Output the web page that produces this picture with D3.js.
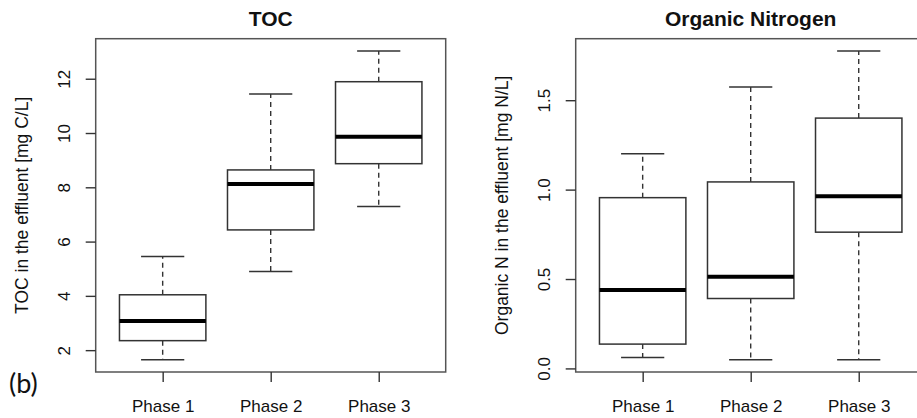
<!DOCTYPE html>
<html lang="en">
<head>
<meta charset="UTF-8" />
<title>TOC and Organic Nitrogen</title>
<script src="https://cdn.jsdelivr.net/npm/d3@7"></script>
<style>
  body { margin: 0; background: #fff; }
  svg text { font-family: "Liberation Sans", Arial, sans-serif; fill: #111; }
</style>
</head>
<body>
<div id="chart"></div>
<script>
// phases on the x axis
const phases = ["Phase 1", "Phase 2", "Phase 3"];

// TOC five-number summaries [mg C/L]
const tocLow  = [1.65, 4.90, 7.29];
const tocQ1   = [2.35, 6.43, 8.87];
const tocMed  = [3.07, 8.12, 9.86];
const tocQ3   = [4.04, 8.64, 11.89];
const tocHigh = [5.45, 11.44, 13.02];
const tocTicks = [2, 4, 6, 8, 10, 12];

// Organic N five-number summaries [mg N/L]
const orgLow  = [0.061, 0.049, 0.049];
const orgQ1   = [0.136, 0.391, 0.762];
const orgMed  = [0.438, 0.512, 0.963];
const orgQ3   = [0.955, 1.043, 1.400];
const orgHigh = [1.200, 1.574, 1.775];
const orgTicks = [0, 0.5, 1.0, 1.5];

const W = 917, H = 418;
const svg = d3.select("#chart").append("svg")
    .attr("width", W)
    .attr("height", H);

const plotTop = 38.7, plotBottom = 372, plotW = 350;

function panel(left, title, yTitle, low, q1, med, q3, high, ticks, fmt) {
  const g = svg.append("g").attr("transform", `translate(${left},0)`);

  // R style: x from 0.5 to n+0.5, padded by 4%
  const n = phases.length;
  const xs = d3.scaleLinear()
      .domain([0.5 - 0.04 * n, n + 0.5 + 0.04 * n])
      .range([0, plotW]);

  const lo = d3.min(low), hi = d3.max(high), pad = (hi - lo) * 0.04;
  const ys = d3.scaleLinear()
      .domain([lo - pad, hi + pad])
      .range([plotBottom, plotTop]);

  const boxes = phases.map((p, i) => ({
    x: i + 1, low: low[i], q1: q1[i], med: med[i], q3: q3[i], high: high[i]
  }));
  const half = 0.4, cap = 0.2;

  const b = g.selectAll("g.box").data(boxes).enter().append("g").attr("class", "box");

  // dashed whiskers
  b.append("line")
      .attr("x1", d => xs(d.x)).attr("x2", d => xs(d.x))
      .attr("y1", d => ys(d.q3)).attr("y2", d => ys(d.high))
      .attr("stroke", "#333").attr("stroke-width", 1.4).attr("stroke-dasharray", "5,4");
  b.append("line")
      .attr("x1", d => xs(d.x)).attr("x2", d => xs(d.x))
      .attr("y1", d => ys(d.q1)).attr("y2", d => ys(d.low))
      .attr("stroke", "#333").attr("stroke-width", 1.4).attr("stroke-dasharray", "5,4");

  // caps
  b.append("line")
      .attr("x1", d => xs(d.x - cap)).attr("x2", d => xs(d.x + cap))
      .attr("y1", d => ys(d.high)).attr("y2", d => ys(d.high))
      .attr("stroke", "#333").attr("stroke-width", 1.5);
  b.append("line")
      .attr("x1", d => xs(d.x - cap)).attr("x2", d => xs(d.x + cap))
      .attr("y1", d => ys(d.low)).attr("y2", d => ys(d.low))
      .attr("stroke", "#333").attr("stroke-width", 1.5);

  // box
  b.append("rect")
      .attr("x", d => xs(d.x - half))
      .attr("width", d => xs(d.x + half) - xs(d.x - half))
      .attr("y", d => ys(d.q3))
      .attr("height", d => ys(d.q1) - ys(d.q3))
      .attr("fill", "#fff").attr("stroke", "#333").attr("stroke-width", 1.5);

  // median
  b.append("line")
      .attr("x1", d => xs(d.x - half)).attr("x2", d => xs(d.x + half))
      .attr("y1", d => ys(d.med)).attr("y2", d => ys(d.med))
      .attr("stroke", "#000").attr("stroke-width", 4);

  // frame
  g.append("rect")
      .attr("x", 0).attr("y", plotTop)
      .attr("width", plotW).attr("height", plotBottom - plotTop)
      .attr("fill", "none").attr("stroke", "#555").attr("stroke-width", 1.5);

  // y axis
  const ya = g.append("g").call(d3.axisLeft(ys).tickValues(ticks).tickSize(10).tickSizeOuter(0).tickFormat(fmt));
  ya.select(".domain").remove();
  ya.selectAll(".tick line").attr("stroke", "#333").attr("stroke-width", 1.4);
  ya.selectAll(".tick text")
      .attr("transform", "rotate(-90)")
      .attr("x", 0).attr("y", -32).attr("dy", "0.35em")
      .attr("text-anchor", "middle")
      .style("font-size", "17px")
      .style("font-family", "Liberation Sans, Arial, sans-serif")
      .attr("fill", "#111");

  // x axis
  const xa = g.append("g").attr("transform", `translate(0,${plotBottom})`)
      .call(d3.axisBottom(xs).tickValues(boxes.map(d => d.x)).tickSize(10).tickSizeOuter(0)
        .tickFormat((d, i) => phases[i]));
  xa.select(".domain").remove();
  xa.selectAll(".tick line").attr("stroke", "#333").attr("stroke-width", 1.4);
  xa.selectAll(".tick text")
      .attr("y", 40).attr("dy", 0)
      .style("font-size", "17px")
      .style("font-family", "Liberation Sans, Arial, sans-serif")
      .attr("fill", "#111");

  // title
  g.append("text")
      .attr("x", plotW / 2).attr("y", 26)
      .attr("text-anchor", "middle")
      .style("font-size", "21px").style("font-weight", "bold")
      .text(title);

  // y title
  g.append("text")
      .attr("transform", `translate(-74,${(plotTop + plotBottom) / 2}) rotate(-90)`)
      .attr("text-anchor", "middle").attr("dy", "0.35em")
      .style("font-size", "17.5px")
      .text(yTitle);
}

panel(95.7, "TOC", "TOC in the effluent [mg C/L]",
      tocLow, tocQ1, tocMed, tocQ3, tocHigh, tocTicks, d3.format("d"));
panel(575.7, "Organic Nitrogen", "Organic N in the effluent [mg N/L]",
      orgLow, orgQ1, orgMed, orgQ3, orgHigh, orgTicks, d3.format(".1f"));

// panel letter
svg.append("text")
    .attr("x", 9).attr("y", 393)
    .style("font-family", "Lato, 'Open Sans', sans-serif")
    .style("font-size", "27px")
    .text("(b)");
</script>
</body>
</html>
